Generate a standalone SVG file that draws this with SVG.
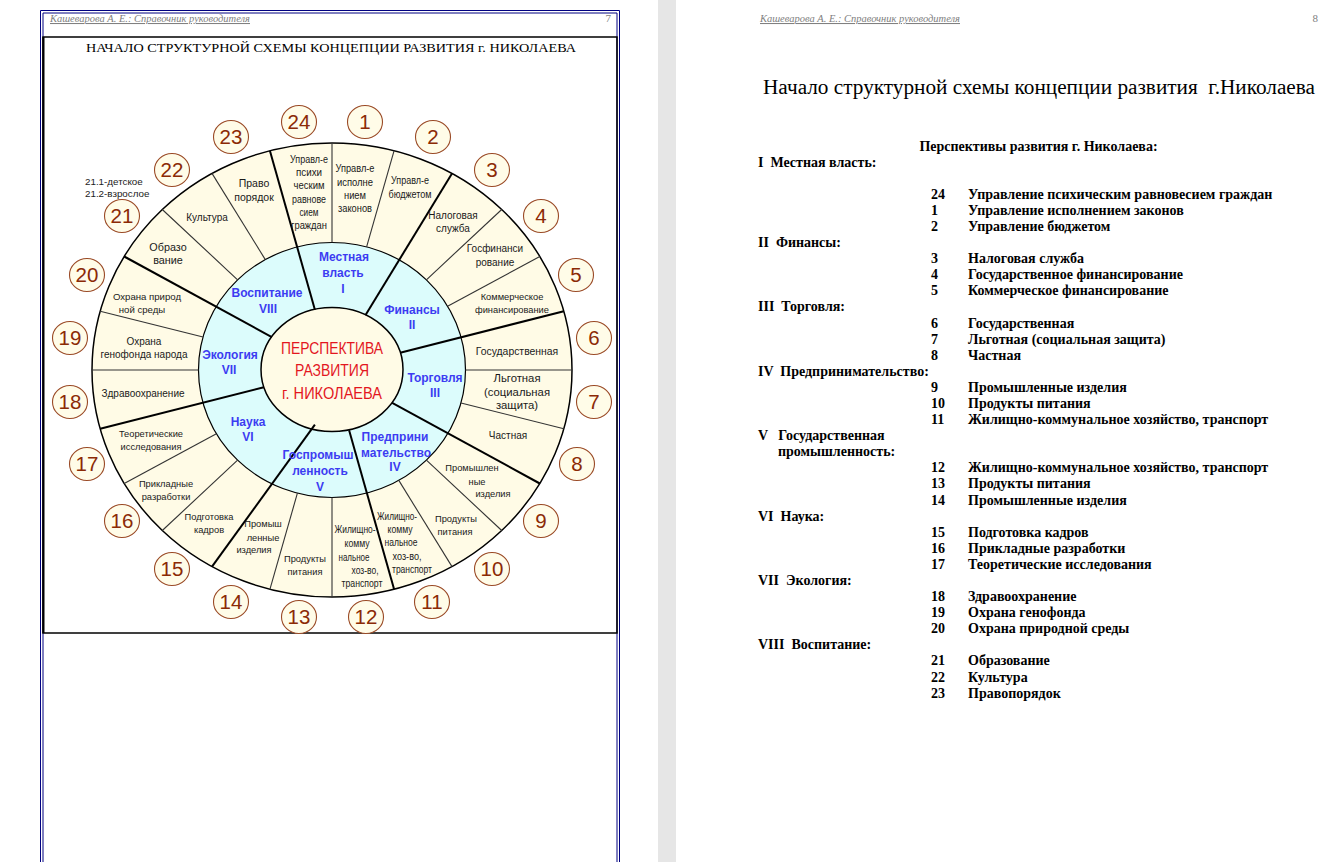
<svg xmlns="http://www.w3.org/2000/svg" width="1343" height="862" viewBox="0 0 1343 862">
<defs>
<style>
.hdr{font-family:"Liberation Serif",serif;font-style:italic;font-size:10.5px;fill:#808080;text-decoration:underline}
.pg{font-family:"Liberation Serif",serif;font-size:11px;fill:#808080;text-anchor:end}
.ttl{font-family:"Liberation Serif",serif;font-size:13.5px;fill:#000;text-anchor:middle}
.ttl2{font-family:"Liberation Serif",serif;font-size:20px;fill:#000;white-space:pre}
.lst text{font-family:"Liberation Serif",serif;font-size:14px;font-weight:bold;fill:#000;white-space:pre}
.c{font-family:"Liberation Sans",Arial,sans-serif;font-size:10px;fill:#1a1a1a;text-anchor:middle}
.n{font-size:10.5px}
.sm{font-size:9.3px}
.ann{font-family:"Liberation Sans",Arial,sans-serif;font-size:9.8px;fill:#1a1a1a}
.s{font-family:"Liberation Sans",Arial,sans-serif;font-size:12px;font-weight:bold;fill:#3c3cf2;text-anchor:middle}
.ctr{font-family:"Liberation Sans",Arial,sans-serif;font-size:16px;fill:#e3161e;text-anchor:middle}
.num ellipse{fill:#fffce8;stroke:#9a4a26;stroke-width:1.1}
.num text{font-family:"Liberation Sans",Arial,sans-serif;font-size:20.5px;fill:#8b2a06;text-anchor:middle}
.thin{stroke:#333;stroke-width:1.1}
.thick{stroke:#000;stroke-width:2}
.bl{stroke:#000080;stroke-width:1;fill:none}
</style>
</defs>
<rect x="0" y="0" width="1343" height="862" fill="#fff"/>
<rect x="658" y="0" width="18" height="862" fill="#e6e6e6"/>

<!-- left page -->
<g id="page-left">
<path class="bl" d="M40.5 862V10.5H619.5V862M43 862V13H617V862"/>
<rect x="43" y="37" width="574" height="596" fill="none" stroke="#000" stroke-width="1.5"/>
<line x1="43.5" y1="37" x2="43.5" y2="633" stroke="#000" stroke-width="2"/>
<text class="hdr" x="50" y="22" textLength="200" lengthAdjust="spacingAndGlyphs">Кашеварова А. Е.: Справочник руководителя</text>
<text class="pg" x="611" y="22">7</text>
<text class="ttl" x="331" y="52" textLength="490" lengthAdjust="spacingAndGlyphs">НАЧАЛО СТРУКТУРНОЙ СХЕМЫ КОНЦЕПЦИИ РАЗВИТИЯ г. НИКОЛАЕВА</text>
</g>

<!-- wheel -->
<g id="wheel-rings">
<ellipse cx="332" cy="370" rx="240" ry="227" fill="#fffbe6" stroke="#000" stroke-width="1.5"/>
<ellipse cx="332" cy="370" rx="133.5" ry="127.5" fill="#dcfcfc" stroke="#000" stroke-width="1.2"/>
<ellipse cx="332" cy="369.5" rx="71" ry="62" fill="#fffbe6" stroke="#000" stroke-width="1.5"/>
</g>

<g id="connectors">
<line class="thin" x1="332" y1="242.5" x2="332" y2="143"/>
<line class="thin" x1="366.6" y1="246.8" x2="394.1" y2="150.7"/>
<line class="thin" x1="426.4" y1="279.8" x2="501.7" y2="209.5"/>
<line class="thin" x1="447.6" y1="306.3" x2="539.8" y2="256.5"/>
<line class="thin" x1="465.5" y1="370" x2="572" y2="370"/>
<line class="thin" x1="461" y1="403" x2="563.8" y2="428.8"/>
<line class="thin" x1="426.4" y1="460.2" x2="501.7" y2="530.5"/>
<line class="thin" x1="398.8" y1="480.4" x2="452" y2="566.6"/>
<line class="thin" x1="332" y1="497.5" x2="332" y2="597"/>
<line class="thin" x1="297.4" y1="493.2" x2="269.9" y2="589.3"/>
<line class="thin" x1="237.6" y1="460.2" x2="162.3" y2="530.5"/>
<line class="thin" x1="216.4" y1="433.8" x2="124.2" y2="483.5"/>
<line class="thin" x1="198.5" y1="370" x2="92" y2="370"/>
<line class="thin" x1="203" y1="337" x2="100.2" y2="311.2"/>
<line class="thin" x1="237.6" y1="279.8" x2="162.3" y2="209.5"/>
<line class="thin" x1="265.3" y1="259.6" x2="212" y2="173.4"/>
<line class="thick" x1="365.4" y1="315.3" x2="452" y2="173.4"/>
<line class="thick" x1="400.2" y1="352.7" x2="563.8" y2="311.2"/>
<line class="thick" x1="392.2" y1="402.9" x2="539.8" y2="483.5"/>
<line class="thick" x1="349.1" y1="430.2" x2="394.1" y2="589.3"/>
<line class="thick" x1="314.9" y1="424.7" x2="212" y2="566.6"/>
<line class="thick" x1="263.8" y1="387.3" x2="100.2" y2="428.8"/>
<line class="thick" x1="271.8" y1="337.1" x2="124.2" y2="256.5"/>
<line class="thick" x1="314.9" y1="309.8" x2="269.9" y2="150.7"/>
</g>

<g id="center">
<text class="ctr" x="332" y="353.8" textLength="102" lengthAdjust="spacingAndGlyphs">ПЕРСПЕКТИВА</text>
<text class="ctr" x="332" y="375.8" textLength="74" lengthAdjust="spacingAndGlyphs">РАЗВИТИЯ</text>
<text class="ctr" x="332" y="398.8" textLength="100" lengthAdjust="spacingAndGlyphs">г. НИКОЛАЕВА</text>
</g>

<g id="sector-I"><text class="s" x="344" y="261.3">Местная</text><text class="s" x="343" y="277.3">власть</text><text class="s" x="343" y="293.3">I</text></g>
<g id="sector-II"><text class="s" x="412" y="314.3">Финансы</text><text class="s" x="412" y="329.3">II</text></g>
<g id="sector-III"><text class="s" x="435" y="382.3">Торговля</text><text class="s" x="435" y="397.3">III</text></g>
<g id="sector-IV"><text class="s" x="395" y="441.3">Предприни</text><text class="s" x="396" y="457.3">мательство</text><text class="s" x="395" y="471.3">IV</text></g>
<g id="sector-V"><text class="s" x="318" y="459.3">Госпромыш</text><text class="s" x="320" y="475.3">ленность</text><text class="s" x="320" y="491.3">V</text></g>
<g id="sector-VI"><text class="s" x="248" y="426.3">Наука</text><text class="s" x="248" y="441.3">VI</text></g>
<g id="sector-VII"><text class="s" x="230" y="359.3">Экология</text><text class="s" x="229" y="374.3">VII</text></g>
<g id="sector-VIII"><text class="s" x="267" y="297.3">Воспитание</text><text class="s" x="268" y="313.3">VIII</text></g>

<g id="cell-24"><text class="c n" x="309" y="162.5" textLength="38" lengthAdjust="spacingAndGlyphs">Управл-е</text><text class="c n" x="309" y="175.5" textLength="26" lengthAdjust="spacingAndGlyphs">психи</text><text class="c n" x="309" y="188.5" textLength="31" lengthAdjust="spacingAndGlyphs">ческим</text><text class="c n" x="309" y="202.5" textLength="34" lengthAdjust="spacingAndGlyphs">равнове</text><text class="c n" x="309" y="215.5" textLength="19" lengthAdjust="spacingAndGlyphs">сием</text><text class="c n" x="309" y="228.5" textLength="36" lengthAdjust="spacingAndGlyphs">граждан</text></g>
<g id="cell-1"><text class="c n" x="355" y="171.5" textLength="39" lengthAdjust="spacingAndGlyphs">Управл-е</text><text class="c n" x="355" y="185.5" textLength="36" lengthAdjust="spacingAndGlyphs">исполне</text><text class="c n" x="355" y="198.5" textLength="22" lengthAdjust="spacingAndGlyphs">нием</text><text class="c n" x="355" y="211.5" textLength="34" lengthAdjust="spacingAndGlyphs">законов</text></g>
<g id="cell-2"><text class="c n" x="410" y="183.5" textLength="38" lengthAdjust="spacingAndGlyphs">Управл-е</text><text class="c n" x="410" y="197.5" textLength="43" lengthAdjust="spacingAndGlyphs">бюджетом</text></g>
<g id="cell-3"><text class="c" x="453" y="218.5">Налоговая</text><text class="c" x="453" y="231.5">служба</text></g>
<g id="cell-4"><text class="c" x="495" y="251.5">Госфинанси</text><text class="c" x="495" y="265.5">рование</text></g>
<g id="cell-5"><text class="c sm" x="512" y="299.5">Коммерческое</text><text class="c sm" x="512" y="312.5">финансирование</text></g>
<g id="cell-6"><text class="c" x="517" y="354.5" style="font-size:10.4px">Государственная</text></g>
<g id="cell-7"><text class="c" x="517" y="381.8" style="font-size:11.3px">Льготная</text><text class="c" x="517" y="395.8" style="font-size:11.3px">(социальная</text><text class="c" x="517" y="408.8" style="font-size:11.3px">защита)</text></g>
<g id="cell-8"><text class="c" x="508" y="438.5">Частная</text></g>
<g id="cell-9"><text class="c sm" x="472" y="470.5">Промышлен</text><text class="c sm" x="477" y="484.5">ные</text><text class="c sm" x="493" y="496.5">изделия</text></g>
<g id="cell-10"><text class="c sm" x="456" y="521.5">Продукты</text><text class="c sm" x="455" y="534.5">питания</text></g>
<g id="cell-11"><text class="c n" x="397" y="519.5" textLength="40" lengthAdjust="spacingAndGlyphs">Жилищно-</text><text class="c n" x="400" y="532.5" textLength="25" lengthAdjust="spacingAndGlyphs">комму</text><text class="c n" x="401" y="545.5" textLength="33" lengthAdjust="spacingAndGlyphs">нальное</text><text class="c n" x="407" y="559.5" textLength="29" lengthAdjust="spacingAndGlyphs">хоз-во,</text><text class="c n" x="412" y="572.5" textLength="40" lengthAdjust="spacingAndGlyphs">транспорт</text></g>
<g id="cell-12"><text class="c n" x="355" y="532.5" textLength="41" lengthAdjust="spacingAndGlyphs">Жилищно-</text><text class="c n" x="357" y="546.5" textLength="25" lengthAdjust="spacingAndGlyphs">комму</text><text class="c n" x="354" y="560.5" textLength="31" lengthAdjust="spacingAndGlyphs">нальное</text><text class="c n" x="365" y="573.5" textLength="27" lengthAdjust="spacingAndGlyphs">хоз-во,</text><text class="c n" x="362" y="586.5" textLength="41" lengthAdjust="spacingAndGlyphs">транспорт</text></g>
<g id="cell-13"><text class="c sm" x="305" y="561.5">Продукты</text><text class="c sm" x="305" y="574.5">питания</text></g>
<g id="cell-14"><text class="c sm" x="263" y="526.5">Промыш</text><text class="c sm" x="263" y="540.5">ленные</text><text class="c sm" x="254" y="552.5">изделия</text></g>
<g id="cell-15"><text class="c sm" x="209" y="519.5">Подготовка</text><text class="c sm" x="209" y="532.5">кадров</text></g>
<g id="cell-16"><text class="c sm" x="166" y="486.5">Прикладные</text><text class="c sm" x="166" y="499.5">разработки</text></g>
<g id="cell-17"><text class="c sm" x="151" y="436.5">Теоретические</text><text class="c sm" x="151" y="449.5">исследования</text></g>
<g id="cell-18"><text class="c" x="143" y="396.5">Здравоохранение</text></g>
<g id="cell-19"><text class="c" x="144" y="344.5">Охрана</text><text class="c" x="144" y="357.5">генофонда народа</text></g>
<g id="cell-20"><text class="c" x="147" y="299.5" style="font-size:9.6px">Охрана природ</text><text class="c" x="142" y="312.5" style="font-size:9.6px">ной среды</text></g>
<g id="cell-21"><text class="c" x="168" y="250.8" style="font-size:10.8px">Образо</text><text class="c" x="168" y="263.8" style="font-size:10.8px">вание</text></g>
<g id="cell-22"><text class="c" x="207" y="220.5">Культура</text></g>
<g id="cell-23"><text class="c n" x="254" y="186.6">Право</text><text class="c n" x="254" y="200.6">порядок</text></g>
<g id="note-21"><text class="ann" x="85" y="184.5">21.1-детское</text><text class="ann" x="85" y="196.5">21.2-взрослое</text></g>

<g id="numbers" class="num">
<g id="num-1"><ellipse cx="365" cy="122" rx="17.5" ry="16.5"/><text x="365" y="129.4">1</text></g>
<g id="num-2"><ellipse cx="433" cy="137" rx="17.5" ry="16.5"/><text x="433" y="144.4">2</text></g>
<g id="num-3"><ellipse cx="492" cy="170" rx="17.5" ry="16.5"/><text x="492" y="177.4">3</text></g>
<g id="num-4"><ellipse cx="541" cy="216" rx="17.5" ry="16.5"/><text x="541" y="223.4">4</text></g>
<g id="num-5"><ellipse cx="576" cy="275" rx="17.5" ry="16.5"/><text x="576" y="282.4">5</text></g>
<g id="num-6"><ellipse cx="594" cy="338" rx="17.5" ry="16.5"/><text x="594" y="345.4">6</text></g>
<g id="num-7"><ellipse cx="594" cy="402" rx="17.5" ry="16.5"/><text x="594" y="409.4">7</text></g>
<g id="num-8"><ellipse cx="577" cy="464" rx="17.5" ry="16.5"/><text x="577" y="471.4">8</text></g>
<g id="num-9"><ellipse cx="541" cy="521" rx="17.5" ry="16.5"/><text x="541" y="528.4">9</text></g>
<g id="num-10"><ellipse cx="492" cy="569" rx="17.5" ry="16.5"/><text x="492" y="576.4">10</text></g>
<g id="num-11"><ellipse cx="432" cy="602" rx="17.5" ry="16.5"/><text x="432" y="609.4">11</text></g>
<g id="num-12"><ellipse cx="366" cy="617" rx="17.5" ry="16.5"/><text x="366" y="624.4">12</text></g>
<g id="num-13"><ellipse cx="299" cy="617" rx="17.5" ry="16.5"/><text x="299" y="624.4">13</text></g>
<g id="num-14"><ellipse cx="231" cy="602" rx="17.5" ry="16.5"/><text x="231" y="609.4">14</text></g>
<g id="num-15"><ellipse cx="172" cy="569" rx="17.5" ry="16.5"/><text x="172" y="576.4">15</text></g>
<g id="num-16"><ellipse cx="122" cy="521" rx="17.5" ry="16.5"/><text x="122" y="528.4">16</text></g>
<g id="num-17"><ellipse cx="87" cy="464" rx="17.5" ry="16.5"/><text x="87" y="471.4">17</text></g>
<g id="num-18"><ellipse cx="70" cy="402" rx="17.5" ry="16.5"/><text x="70" y="409.4">18</text></g>
<g id="num-19"><ellipse cx="70" cy="338" rx="17.5" ry="16.5"/><text x="70" y="345.4">19</text></g>
<g id="num-20"><ellipse cx="87" cy="275" rx="17.5" ry="16.5"/><text x="87" y="282.4">20</text></g>
<g id="num-21"><ellipse cx="122" cy="216" rx="17.5" ry="16.5"/><text x="122" y="223.4">21</text></g>
<g id="num-22"><ellipse cx="172" cy="170" rx="17.5" ry="16.5"/><text x="172" y="177.4">22</text></g>
<g id="num-23"><ellipse cx="231" cy="137" rx="17.5" ry="16.5"/><text x="231" y="144.4">23</text></g>
<g id="num-24"><ellipse cx="299" cy="122" rx="17.5" ry="16.5"/><text x="299" y="129.4">24</text></g>
</g>

<!-- right page -->
<g id="page-right">
<text class="hdr" x="760" y="22" textLength="200" lengthAdjust="spacingAndGlyphs">Кашеварова А. Е.: Справочник руководителя</text>
<text class="pg" x="1318" y="22">8</text>
<text class="ttl2" x="763" y="94" textLength="552" lengthAdjust="spacingAndGlyphs">Начало структурной схемы концепции развития  г.Николаева</text>
</g>
<g id="legend" class="lst">
<text x="1038.5" y="150.5" text-anchor="middle">Перспективы развития г. Николаева:</text>
<text x="758" y="166.6">I  Местная власть:</text>
<text x="931" y="198.8">24</text><text x="968" y="198.8">Управление психическим равновесием граждан</text>
<text x="931" y="214.9">1</text><text x="968" y="214.9">Управление исполнением законов</text>
<text x="931" y="231">2</text><text x="968" y="231">Управление бюджетом</text>
<text x="758" y="247">II  Финансы:</text>
<text x="931" y="263.1">3</text><text x="968" y="263.1">Налоговая служба</text>
<text x="931" y="279.2">4</text><text x="968" y="279.2">Государственное финансирование</text>
<text x="931" y="295.3">5</text><text x="968" y="295.3">Коммерческое финансирование</text>
<text x="758" y="311.4">III  Торговля:</text>
<text x="931" y="327.5">6</text><text x="968" y="327.5">Государственная</text>
<text x="931" y="343.6">7</text><text x="968" y="343.6">Льготная (социальная защита)</text>
<text x="931" y="359.7">8</text><text x="968" y="359.7">Частная</text>
<text x="758" y="375.8">IV  Предпринимательство:</text>
<text x="931" y="391.9">9</text><text x="968" y="391.9">Промышленные изделия</text>
<text x="931" y="407.9">10</text><text x="968" y="407.9">Продукты питания</text>
<text x="931" y="424">11</text><text x="968" y="424">Жилищно-коммунальное хозяйство, транспорт</text>
<text x="758" y="440.1">V   Государственная</text>
<text x="778" y="456.2">промышленность:</text>
<text x="931" y="472.3">12</text><text x="968" y="472.3">Жилищно-коммунальное хозяйство, транспорт</text>
<text x="931" y="488.4">13</text><text x="968" y="488.4">Продукты питания</text>
<text x="931" y="504.5">14</text><text x="968" y="504.5">Промышленные изделия</text>
<text x="758" y="520.6">VI  Наука:</text>
<text x="931" y="536.7">15</text><text x="968" y="536.7">Подготовка кадров</text>
<text x="931" y="552.8">16</text><text x="968" y="552.8">Прикладные разработки</text>
<text x="931" y="568.8">17</text><text x="968" y="568.8">Теоретические исследования</text>
<text x="758" y="584.9">VII  Экология:</text>
<text x="931" y="601">18</text><text x="968" y="601">Здравоохранение</text>
<text x="931" y="617.1">19</text><text x="968" y="617.1">Охрана генофонда</text>
<text x="931" y="633.2">20</text><text x="968" y="633.2">Охрана природной среды</text>
<text x="758" y="649.3">VIII  Воспитание:</text>
<text x="931" y="665.4">21</text><text x="968" y="665.4">Образование</text>
<text x="931" y="681.5">22</text><text x="968" y="681.5">Культура</text>
<text x="931" y="697.6">23</text><text x="968" y="697.6">Правопорядок</text>
</g>
</svg>
